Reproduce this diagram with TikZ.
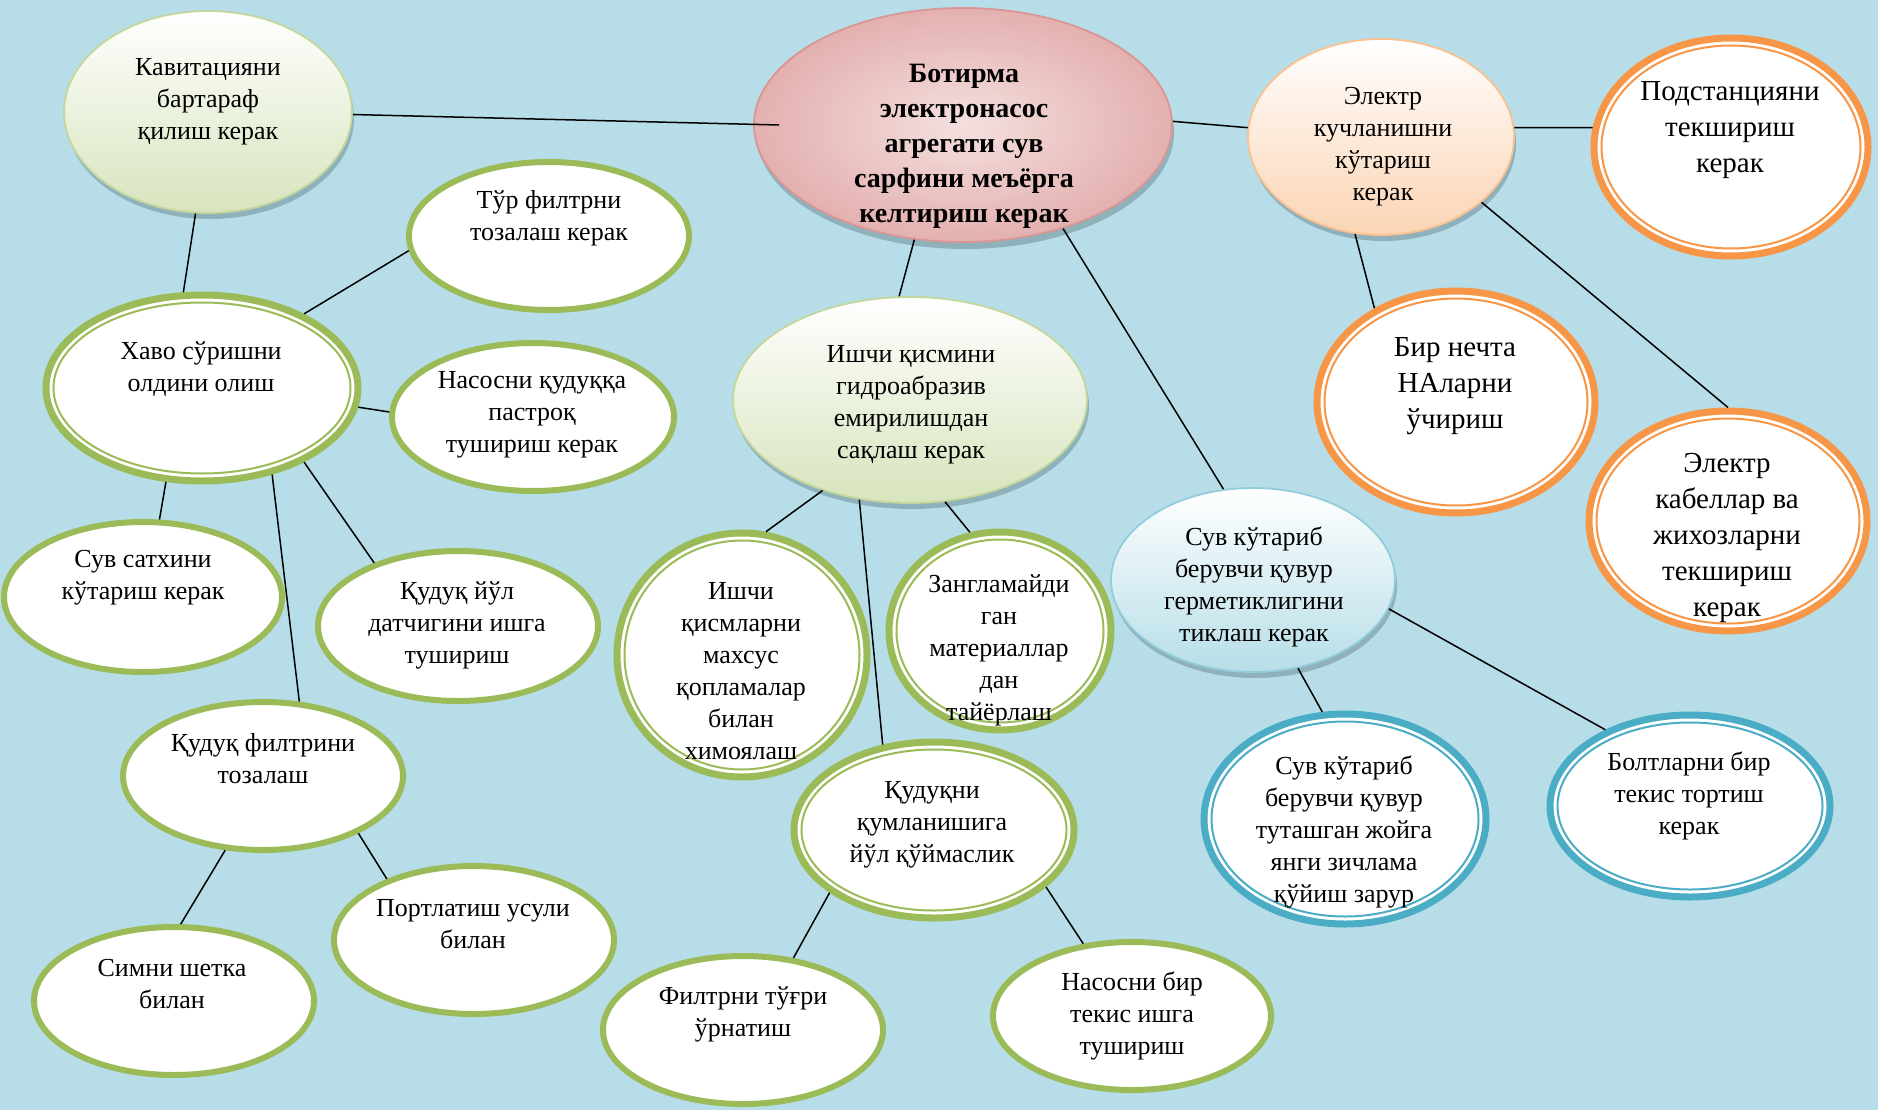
\documentclass[tikz,border=0pt]{standalone}
\usepackage{fontspec}
\setmainfont{Liberation Serif}
\usetikzlibrary{shapes.geometric,shadows,calc}
\definecolor{sfondo}{HTML}{B7DEE8}
\definecolor{verdeC}{HTML}{9BBB59}
\definecolor{verdeT}{HTML}{D7E4BD}
\definecolor{verdeB}{HTML}{C3D69B}
\definecolor{arancio}{HTML}{F79646}
\definecolor{aranT}{HTML}{FBD4B4}
\definecolor{aranB}{HTML}{FAC08F}
\definecolor{azzurro}{HTML}{4BACC6}
\definecolor{azzT}{HTML}{B7DEE8}
\definecolor{azzB}{HTML}{92CDDC}
\definecolor{rosa}{HTML}{E3B0AF}
\definecolor{rosaC}{HTML}{F4E0DF}
\definecolor{rosaB}{HTML}{D99694}
\definecolor{ombra}{HTML}{7F9FA8}
\begin{document}
\begin{tikzpicture}[x=1pt,y=-1pt,
    bolla/.style={ellipse,inner sep=0pt},
    piena/.style={bolla,fill=white,draw=verdeC,line width=6pt},
    doppio/.style={bolla,fill=white,draw=#1,line width=7pt,
        path picture={\draw[#1,line width=2pt] let \p1=(path picture bounding box.north east),
            \p2=(path picture bounding box.center) in
            (\p2) ellipse ({\x1-\x2-7.5pt} and {\y1-\y2-7.5pt});}},
    sfumata/.style 2 args={bolla,draw=#1,line width=1.8pt,top color=white,bottom color=#2,
        drop shadow={shadow xshift=2pt,shadow yshift=-6pt,fill=ombra,opacity=.7}},
    testo/.style={align=center,inner sep=0pt,yshift=-3pt,font=\fontsize{26}{32}\selectfont},
    grande/.style={testo,font=\fontsize{29}{36}\selectfont},
    filo/.style={black,line width=1.5pt}]
    \fill[sfondo] (0,0) rectangle (1878,1110);
    \useasboundingbox (0,0) rectangle (1878,1110);
    % nodo centrale e rami superiori
    \node[bolla,draw=rosaB,line width=1.8pt,inner color=rosaC,outer color=rosa,
        drop shadow={shadow xshift=2pt,shadow yshift=-7pt,fill=ombra,opacity=.7},
        minimum width=418,minimum height=234] (main) at (963,125) {};
    \node[sfumata={verdeB}{verdeT},minimum width=288,minimum height=202] (kav) at (208,112) {};
    \node[sfumata={aranB}{aranT},minimum width=266,minimum height=196] (kuch) at (1381,137) {};
    \node[sfumata={verdeB}{verdeT},minimum width=354,minimum height=206] (ishqism) at (910,400) {};
    \node[sfumata={azzB}{azzT},minimum width=284,minimum height=184] (germ) at (1253,580) {};
    % ellissi con bordo doppio
    \node[doppio=arancio,minimum width=274,minimum height=218] (podst) at (1731,147) {};
    \node[doppio=arancio,minimum width=278,minimum height=222] (birn) at (1456,402) {};
    \node[doppio=arancio,minimum width=278,minimum height=220] (kabel) at (1728,521) {};
    \node[doppio=azzurro,minimum width=282,minimum height=210] (tutash) at (1345,819) {};
    \node[doppio=azzurro,minimum width=280,minimum height=182] (bolt) at (1690,806) {};
    \node[doppio=verdeC,minimum width=312,minimum height=186] (havo) at (202,388) {};
    \node[doppio=verdeC,minimum width=250,minimum height=244] (ishqisml) at (742,655) {};
    \node[doppio=verdeC,minimum width=222,minimum height=198] (zang) at (1000,631) {};
    \node[doppio=verdeC,minimum width=280,minimum height=176] (qumlan) at (934,830) {};
    % ellissi semplici
    \node[piena,minimum width=280,minimum height=148] (tur) at (549,236) {};
    \node[piena,minimum width=282,minimum height=148] (pastroq) at (533,417) {};
    \node[piena,minimum width=278,minimum height=150] (satx) at (143,597) {};
    \node[piena,minimum width=280,minimum height=150] (datch) at (458,626) {};
    \node[piena,minimum width=280,minimum height=148] (filtrini) at (263,776) {};
    \node[piena,minimum width=280,minimum height=148] (simni) at (174,1001) {};
    \node[piena,minimum width=280,minimum height=148] (portl) at (474,940) {};
    \node[piena,minimum width=280,minimum height=148] (filtrni) at (743,1030) {};
    \node[piena,minimum width=278,minimum height=148] (tekis) at (1132,1016) {};
    % testi
    \node[testo,font=\fontsize{28}{35}\selectfont\bfseries] (main-t) at (964,143)
        {Ботирма\\электронасос\\агрегати сув\\сарфини меъёрга\\келтириш керак};
    \node[testo] (kav-t) at (208,99) {Кавитацияни\\бартараф\\қилиш керак};
    \node[testo] (kuch-t) at (1383,144) {Электр\\кучланишни\\кўтариш\\керак};
    \node[grande] (podst-t) at (1730,127) {Подстанцияни\\текшириш\\керак};
    \node[grande] (birn-t) at (1455,383) {Бир нечта\\НАларни\\ўчириш};
    \node[grande] (kabel-t) at (1727,535) {Электр\\кабеллар ва\\жихозларни\\текшириш\\керак};
    \node[testo] (ishqism-t) at (911,402) {Ишчи қисмини\\гидроабразив\\емирилишдан\\сақлаш керак};
    \node[testo] (germ-t) at (1254,584) {Сув кўтариб\\берувчи қувур\\герметиклигини\\тиклаш керак};
    \node[testo] (tutash-t) at (1344,829) {Сув кўтариб\\берувчи қувур\\туташган жойга\\янги зичлама\\қўйиш зарур};
    \node[testo] (bolt-t) at (1689,793) {Болтларни бир\\текис тортиш\\керак};
    \node[testo] (tur-t) at (549,215) {Тўр филтрни\\тозалаш керак};
    \node[testo] (havo-t) at (201,366) {Хаво сўришни\\олдини олиш};
    \node[testo] (pastroq-t) at (532,412) {Насосни қудуққа\\пастроқ\\тушириш керак};
    \node[testo] (satx-t) at (143,575) {Сув сатхини\\кўтариш керак};
    \node[testo] (datch-t) at (457,622) {Қудуқ йўл\\датчигини ишга\\тушириш};
    \node[testo] (ishqisml-t) at (741,668) {Ишчи\\қисмларни\\махсус\\қопламалар\\билан\\химоялаш};
    \node[testo] (zang-t) at (999,647) {Зангламайди\\ган\\материаллар\\дан\\тайёрлаш};
    \node[testo] (qumlan-t) at (932,822) {Қудуқни\\қумланишига\\йўл қўймаслик};
    \node[testo] (filtrini-t) at (263,756) {Қудуқ филтрини\\тозалаш};
    \node[testo] (simni-t) at (172,981) {Симни шетка\\билан};
    \node[testo] (portl-t) at (473,921) {Портлатиш усули\\билан};
    \node[testo] (filtrni-t) at (743,1011) {Филтрни тўғри\\ўрнатиш};
    \node[testo] (tekis-t) at (1132,1013) {Насосни бир\\текис ишга\\тушириш};
    % collegamenti
    \draw[filo] (kav.-1) -- ([xshift=26]main.west);
    \draw[filo] (kav.263) -- (havo.101);
    \draw[filo] (havo.36) -- (tur.186);
    \draw[filo] (havo.-7) -- (pastroq.178);
    \draw[filo] (havo.249) -- (satx.78);
    \draw[filo] (havo.-51) -- (filtrini.64);
    \draw[filo] (havo.-36) -- (datch.143);
    \draw[filo] (main.1) -- (kuch.176);
    \draw[filo] (main.247) -- (ishqism.96);
    \draw[filo] (main.-46) -- (germ.108);
    \draw[filo] (kuch.4) -- (podst.172);
    \draw[filo] (kuch.255) -- (birn.131);
    \draw[filo] (kuch.-33) -- (kabel.90);
    \draw[filo] (ishqism.226) -- (ishqisml.79);
    \draw[filo] (ishqism.243) -- (qumlan.121);
    \draw[filo] (ishqism.-71) -- (zang.107);
    \draw[filo] (germ.-63) -- (tutash.102);
    \draw[filo] (germ.-12) -- (bolt.138);
    \draw[filo] (filtrini.243) -- (simni.85);
    \draw[filo] (filtrini.-31) -- (portl.145);
    \draw[filo] (qumlan.211) -- (filtrni.55);
    \draw[filo] (qumlan.-27) -- (tekis.124);
\end{tikzpicture}
\end{document}
